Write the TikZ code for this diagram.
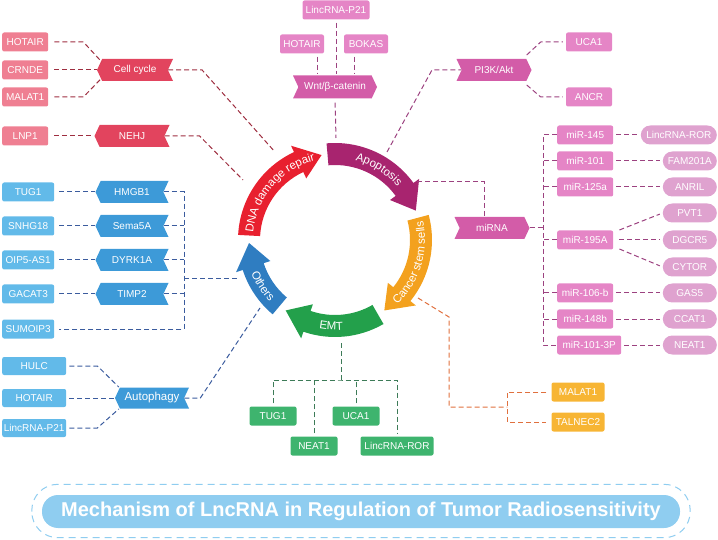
\documentclass[tikz,border=0pt]{standalone}
\usepackage{fontspec}
\setmainfont{Liberation Sans}
\usetikzlibrary{shapes.symbols, decorations.text, calc}

\definecolor{redbox}{HTML}{EF7F92}
\definecolor{redtag}{HTML}{E2445E}
\definecolor{redline}{HTML}{9E2E40}
\definecolor{pinkbox}{HTML}{E585C6}
\definecolor{pinktag}{HTML}{D35CA8}
\definecolor{pinkpill}{HTML}{DFA2CF}
\definecolor{pinkline}{HTML}{9C4280}
\definecolor{bluebox}{HTML}{62BAE9}
\definecolor{bluetag}{HTML}{3D9AD8}
\definecolor{blueline}{HTML}{3B5C9E}
\definecolor{greenbox}{HTML}{3EB46E}
\definecolor{greenline}{HTML}{3D7B58}
\definecolor{orangebox}{HTML}{F7B534}
\definecolor{orangeline}{HTML}{E0703E}
\definecolor{titleblue}{HTML}{8FCDF0}
\definecolor{dnared}{HTML}{E8202F}
\definecolor{apopurple}{HTML}{A8246F}
\definecolor{cscorange}{HTML}{F3A11E}
\definecolor{emtgreen}{HTML}{23A04B}
\definecolor{othblue}{HTML}{2F7DC1}

\tikzset{
  gene/.style={fill=#1, text=white, rounded corners=2pt, minimum height=19pt, inner sep=1pt, font=\fontsize{10}{12}\selectfont},
  pill/.style={gene=#1, rounded corners=9.5pt},
  tagL/.style={signal, signal to=west, signal from=east, signal pointer angle=130, fill=#1, text=white, minimum height=22pt, inner sep=1pt, font=\fontsize{10}{12}\selectfont},
  tagR/.style={signal, signal to=east, signal from=west, signal pointer angle=130, fill=#1, text=white, minimum height=22pt, inner sep=1pt, font=\fontsize{10}{12}\selectfont},
  link/.style={draw=#1, line width=1pt, dash pattern=on 5pt off 3pt},
  ringtext/.style={decorate, decoration={text along path, text align=center, text={|\fontsize{11.5}{13}\selectfont\color{white}|#1}}},
}

% one arrow of the ring: start angle, tip angle, colour
\newcommand{\ringarrow}[3]{%
  \pgfmathsetmacro{\headbase}{#2+16}%
  \fill[#3] (#1:97) arc[start angle=#1, end angle=\headbase, radius=97]
    -- (\headbase:104) -- (#2:86) -- (\headbase:68) -- (\headbase:75)
    arc[start angle=\headbase, end angle=#1, radius=75] -- cycle;
}

\begin{document}
\begin{tikzpicture}[x=1pt,y=1pt,>=latex]
  \useasboundingbox (0,0) rectangle (718,-540);

  % the ring
  \begin{scope}[shift={(335,-240)}]
    \ringarrow{177}{99}{dnared}
    \ringarrow{95}{20}{apopurple}
    \ringarrow{15}{-55}{cscorange}
    \ringarrow{-60}{-125}{emtgreen}
    \ringarrow{-130}{-178}{othblue}
    \path[ringtext={DNA damage repair}] (178:82) arc[start angle=178, end angle=101, radius=82];
    \path[ringtext={Apoptosis}] (90:82) arc[start angle=90, end angle=26, radius=82];
    \path[ringtext={Cancer stem sells}] (-55:90) arc[start angle=-55, end angle=21, radius=90];
    \path[ringtext={EMT}] (-115:90) arc[start angle=-115, end angle=-70, radius=90];
    \path[ringtext={Others}] (-165:90) arc[start angle=-165, end angle=-130, radius=90];
  \end{scope}

  % link ends on the ring
  \coordinate (dnaA) at (275,-152);
  \coordinate (dnaB) at (243,-180);
  \coordinate (apoW) at (336,-138);
  \coordinate (apoP) at (387,-152);
  \coordinate (apoM) at (417,-182);
  \coordinate (cscO) at (418,-298);
  \coordinate (emtG) at (341,-343);
  \coordinate (othA) at (237,-279);
  \coordinate (othB) at (260,-308);
  \coordinate (othBus) at (184,-279);

  % cell cycle and NEHJ
  \node[gene=redbox, anchor=west, minimum width=46pt] (ccHotair) at (2,-42) {HOTAIR};
  \node[gene=redbox, anchor=west, minimum width=46pt] (ccCrnde) at (2,-70) {CRNDE};
  \node[gene=redbox, anchor=west, minimum width=46pt] (ccMalat) at (2,-97) {MALAT1};
  \node[gene=redbox, anchor=west, minimum width=46pt] (nehjLnp) at (2,-136) {LNP1};
  \node[tagL=redtag, minimum width=76pt] (cc) at (135,-70) {Cell cycle};
  \node[tagL=redtag, minimum width=75pt] (nehj) at (132,-136) {NEHJ};
  \draw[link=redline, shorten <=6pt] (ccHotair.east) -- ++(35,0) -- ($(cc.west)+(5,8)$);
  \draw[link=redline, shorten <=6pt] (ccCrnde.east) -- (cc.west);
  \draw[link=redline, shorten <=6pt] (ccMalat.east) -- ++(35,0) -- ($(cc.west)+(5,-8)$);
  \draw[link=redline] (cc.east) -- ++(34,0) -- (dnaA);
  \draw[link=redline, shorten <=6pt] (nehjLnp.east) -- (nehj.west);
  \draw[link=redline] (nehj.east) -- ++(35,0) -- (dnaB);

  % Wnt/beta-catenin
  \node[gene=pinkbox, minimum width=67pt] (wntP21) at (336,-10) {LincRNA-P21};
  \node[gene=pinkbox, minimum width=44pt] (wntHotair) at (302,-44) {HOTAIR};
  \node[gene=pinkbox, minimum width=44pt] (wntBokas) at (366,-44) {BOKAS};
  \node[tagR=pinktag, minimum width=84pt, minimum height=23pt] (wnt) at (335,-87) {Wnt/β-catenin};
  \draw[link=pinkline] ($(wntP21.south)+(0,-3)$) -- ++(0,-51);
  \draw[link=pinkline] ($(wntHotair.south)+(15,-3)$) -- ++(0,-17);
  \draw[link=pinkline] ($(wntBokas.south)+(-12,-3)$) -- ++(0,-17);
  \draw[link=pinkline, shorten <=4pt] (wnt.south) -- (apoW);

  % PI3K/Akt
  \node[tagR=pinktag, minimum width=75pt] (pik) at (494,-70) {PI3K/Akt};
  \node[gene=pinkbox, minimum width=46pt] (pikUca) at (589,-42) {UCA1};
  \node[gene=pinkbox, minimum width=46pt] (pikAncr) at (589,-97) {ANCR};
  \draw[link=pinkline] (apoP) -- ++(45,82) -- (pik.west);
  \draw[link=pinkline, shorten >=3pt] ($(pik.east)+(-5,15)$) -- ++(14,13) -- (pikUca.west);
  \draw[link=pinkline, shorten >=3pt] ($(pik.east)+(-5,-15)$) -- ++(14,-12) -- (pikAncr.west);

  % miRNA
  \node[tagR=pinktag, minimum width=75pt] (mirna) at (492,-228) {miRNA};
  \node[gene=pinkbox, anchor=west, minimum width=56pt] (m145) at (557,-135) {miR-145};
  \node[gene=pinkbox, anchor=west, minimum width=56pt] (m101) at (557,-161) {miR-101};
  \node[gene=pinkbox, anchor=west, minimum width=56pt] (m125) at (557,-187) {miR-125a};
  \node[gene=pinkbox, anchor=west, minimum width=56pt] (m195) at (557,-240) {miR-195A};
  \node[gene=pinkbox, anchor=west, minimum width=56pt] (m106) at (557,-293) {miR-106-b};
  \node[gene=pinkbox, anchor=west, minimum width=56pt] (m148) at (557,-319) {miR-148b};
  \node[gene=pinkbox, anchor=west, minimum width=64pt] (m1013) at (557,-345) {miR-101-3P};
  \node[pill=pinkpill, anchor=east, minimum width=76pt] (ror) at (717,-135) {LincRNA-ROR};
  \node[pill=pinkpill, anchor=east, minimum width=54pt] (fam) at (717,-161) {FAM201A};
  \node[pill=pinkpill, anchor=east, minimum width=54pt] (anril) at (717,-187) {ANRIL};
  \node[pill=pinkpill, anchor=east, minimum width=54pt] (pvt) at (717,-213) {PVT1};
  \node[pill=pinkpill, anchor=east, minimum width=54pt] (dgcr) at (717,-240) {DGCR5};
  \node[pill=pinkpill, anchor=east, minimum width=54pt] (cytor) at (717,-267) {CYTOR};
  \node[pill=pinkpill, anchor=east, minimum width=54pt] (gas) at (717,-293) {GAS5};
  \node[pill=pinkpill, anchor=east, minimum width=54pt] (ccat) at (717,-319) {CCAT1};
  \node[pill=pinkpill, anchor=east, minimum width=54pt] (neat) at (717,-345) {NEAT1};
  \draw[link=pinkline] (apoM) -| ($(mirna.north)+(-8,0)$);
  \draw[link=pinkline] (mirna.east) -- ++(13,0);
  \draw[link=pinkline] (m145.west) -- ++(-14,0) |- (m1013.west);
  \draw[link=pinkline] (m101.west) -- ++(-14,0);
  \draw[link=pinkline] (m125.west) -- ++(-14,0);
  \draw[link=pinkline] (m195.west) -- ++(-14,0);
  \draw[link=pinkline] (m106.west) -- ++(-14,0);
  \draw[link=pinkline] (m148.west) -- ++(-14,0);
  \draw[link=pinkline, shorten <=3pt, shorten >=3pt] (m145.east) -- (ror.west);
  \draw[link=pinkline, shorten <=3pt, shorten >=3pt] (m101.east) -- (fam.west);
  \draw[link=pinkline, shorten <=3pt, shorten >=3pt] (m125.east) -- (anril.west);
  \draw[link=pinkline, shorten >=3pt] ($(m195.east)+(6,10)$) -- (pvt.west);
  \draw[link=pinkline, shorten <=6pt, shorten >=3pt] (m195.east) -- (dgcr.west);
  \draw[link=pinkline, shorten >=3pt] ($(m195.east)+(6,-9)$) -- (cytor.west);
  \draw[link=pinkline, shorten <=3pt, shorten >=3pt] (m106.east) -- (gas.west);
  \draw[link=pinkline, shorten <=3pt, shorten >=3pt] (m148.east) -- (ccat.west);
  \draw[link=pinkline, shorten <=3pt, shorten >=3pt] (m1013.east) -- (neat.west);

  % cancer stem cells
  \node[gene=orangebox, minimum width=53pt] (cscMalat) at (578,-392) {MALAT1};
  \node[gene=orangebox, minimum width=53pt] (cscTal) at (578,-422) {TALNEC2};
  \draw[link=orangeline] (cscO) -- ++(31,-19) |- ($(cscMalat.west)!.5!(cscTal.west)+(-44,0)$);
  \draw[link=orangeline, shorten <=5pt, shorten >=5pt] (cscMalat.west) -- ++(-44,0) |- (cscTal.west);

  % EMT
  \node[gene=greenbox, minimum width=47pt] (emtTug) at (273,-416) {TUG1};
  \node[gene=greenbox, minimum width=47pt] (emtUca) at (356,-416) {UCA1};
  \node[gene=greenbox, minimum width=47pt] (emtNeat) at (314,-446) {NEAT1};
  \node[gene=greenbox, minimum width=73pt] (emtRor) at (397,-446) {LincRNA-ROR};
  \draw[link=greenline] (emtG) -- ++(0,-37) coordinate (emtJ);
  \draw[link=greenline] ($(emtTug.north)+(0,3)$) |- (emtJ) -| ($(emtRor.north)+(0,3)$);
  \draw[link=greenline] ($(emtNeat.north)+(0,3)$) -- (emtNeat.north |- emtJ);
  \draw[link=greenline] ($(emtUca.north)+(0,3)$) -- (emtUca.north |- emtJ);

  % others
  \node[gene=bluebox, anchor=west, minimum width=52pt] (othTug) at (2,-192) {TUG1};
  \node[gene=bluebox, anchor=west, minimum width=52pt] (othSnhg) at (2,-226) {SNHG18};
  \node[gene=bluebox, anchor=west, minimum width=52pt] (othOip) at (2,-260) {OIP5-AS1};
  \node[gene=bluebox, anchor=west, minimum width=52pt] (othGacat) at (2,-294) {GACAT3};
  \node[gene=bluebox, anchor=west, minimum width=52pt] (othSumo) at (2,-329) {SUMOIP3};
  \node[tagL=bluetag, minimum width=73pt] (hmgb) at (132,-192) {HMGB1};
  \node[tagL=bluetag, minimum width=73pt] (sema) at (132,-226) {Sema5A};
  \node[tagL=bluetag, minimum width=73pt] (dyrk) at (132,-260) {DYRK1A};
  \node[tagL=bluetag, minimum width=73pt] (timp) at (132,-294) {TIMP2};
  \draw[link=blueline, shorten <=5pt] (othTug.east) -- (hmgb.west);
  \draw[link=blueline, shorten <=5pt] (othSnhg.east) -- (sema.west);
  \draw[link=blueline, shorten <=5pt] (othOip.east) -- (dyrk.west);
  \draw[link=blueline, shorten <=5pt] (othGacat.east) -- (timp.west);
  \draw[link=blueline, shorten >=5pt] (hmgb.east) -- (hmgb.east -| othBus) -- (othSumo.east -| othBus) -- (othSumo.east);
  \draw[link=blueline] (sema.east) -- (sema.east -| othBus);
  \draw[link=blueline] (dyrk.east) -- (dyrk.east -| othBus);
  \draw[link=blueline] (timp.east) -- (timp.east -| othBus);
  \draw[link=blueline] (othBus) -- (othA);

  % autophagy
  \node[tagL=bluetag, minimum width=74pt, minimum height=21pt, font=\fontsize{11.5}{13}\selectfont] (auto) at (152,-398) {Autophagy};
  \node[gene=bluebox, anchor=west, minimum width=64pt, minimum height=18pt] (autoHulc) at (2,-366) {HULC};
  \node[gene=bluebox, anchor=west, minimum width=64pt, minimum height=18pt] (autoHotair) at (2,-398) {HOTAIR};
  \node[gene=bluebox, anchor=west, minimum width=64pt, minimum height=18pt] (autoP21) at (2,-428) {LincRNA-P21};
  \draw[link=blueline, shorten <=3pt] (autoHulc.east) -- ++(31,0) -- ($(auto.west)+(4,11)$);
  \draw[link=blueline, shorten <=3pt] (autoHotair.east) -- (auto.west);
  \draw[link=blueline, shorten <=3pt] (autoP21.east) -- ++(31,0) -- ($(auto.west)+(4,-11)$);
  \draw[link=blueline] (auto.east) -- ++(16,0) -- (othB);

  % title
  \node[fill=titleblue, text=white, rounded corners=16pt, minimum width=638pt, minimum height=33pt, font=\fontsize{20}{24}\selectfont\bfseries] (title) at (361,-511.5) {Mechanism of LncRNA in Regulation of Tumor Radiosensitivity};
  \draw[titleblue, line width=1pt, dash pattern=on 7pt off 5pt, rounded corners=26pt] ($(title.south west)+(-10,-9.5)$) rectangle ($(title.north east)+(10,10.5)$);
\end{tikzpicture}
\end{document}
